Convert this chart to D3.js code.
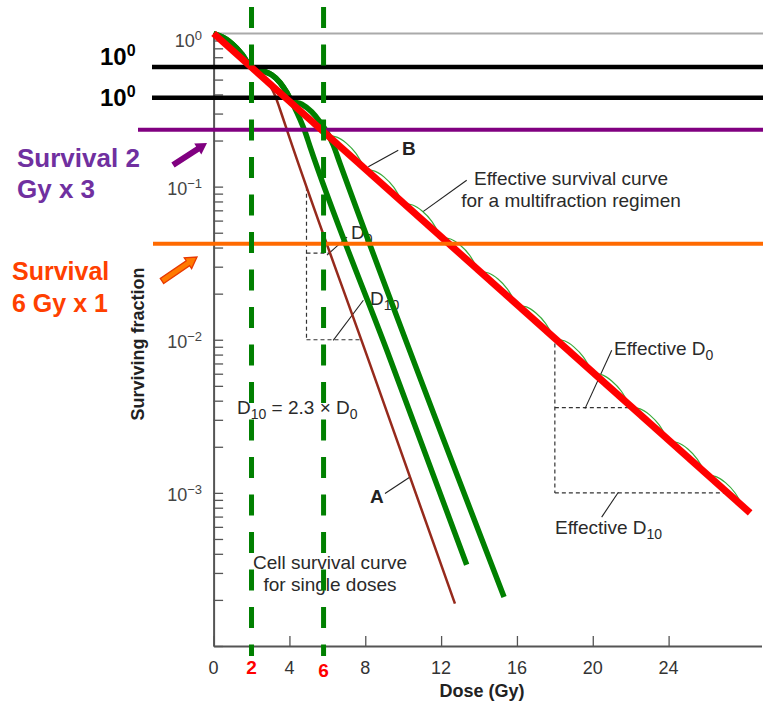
<!DOCTYPE html>
<html>
<head>
<meta charset="utf-8">
<script src="https://cdn.jsdelivr.net/npm/d3@7"></script>
<style>
body{margin:0;background:#fff;}
svg{display:block;font-family:"Liberation Sans",Arial,sans-serif;}
</style>
</head>
<body>
<svg id="chart" width="763" height="703"></svg>
<script>
// ---- data ----
// x ticks (Gy)
var xTicks = [0, 4, 8, 12, 16, 20, 24];
var yLabelVals = [1, 0.1, 0.01, 0.001];
var yLabelExp = ["0", "\u22121", "\u22122", "\u22123"];

// curve A: single doses (brown)
var curveA_dose = [0, 0.5, 1, 1.5, 2, 2.62, 2.97, 3.24, 3.5, 4.03, 8.14, 12.73];
var curveA_surv = [1, 0.944, 0.851, 0.733, 0.600, 0.513, 0.457, 0.394, 0.320, 0.204, 0.00755, 0.000189];

// thick green: single dose given after 1 fraction
var green1_dose = [0, 0.5, 1, 1.5, 2, 2.62, 3.06, 3.5, 3.86, 4.2, 4.56, 4.82, 5.09, 9.3, 13.35];
var green1_surv = [1, 0.944, 0.851, 0.733, 0.600, 0.569, 0.537, 0.479, 0.412, 0.343, 0.275, 0.229, 0.182, 0.00755, 0.000339];

// thick green: single dose given after 2 fractions
var green2_dose = [0, 0.5, 1, 1.5, 2, 2.62, 3.06, 3.5, 3.86, 4.1, 4.65, 5.17, 5.61, 5.97, 6.31, 6.67, 15.32];
var green2_surv = [1, 0.944, 0.851, 0.733, 0.600, 0.569, 0.537, 0.479, 0.412, 0.363, 0.345, 0.308, 0.265, 0.228, 0.187, 0.141, 0.000209];

// multifraction scallops (thin green): start of each 2 Gy fraction
var fractionDose = [0, 2, 4, 6, 8, 10, 12, 14, 16, 18, 20, 22, 24, 26];
var fractionSurv = [1, 0.6, 0.36, 0.216, 0.1296, 0.0778, 0.0467, 0.028, 0.0168, 0.0101, 0.00605, 0.00363, 0.00218, 0.00131];
// shape of one shoulder (dose into fraction, relative survival)
var shoulderDose = [0, 0.5, 1, 1.5, 2];
var shoulderSurv = [1, 0.975, 0.89, 0.765, 0.6];

// effective survival curve B (red)
var redLine = [[0, 1], [28.3, 0.00074]];

// horizontal reference lines
var blackLevels = [0.605, 0.38];
var purpleLevel = 0.235;
var orangeLevel = 0.0423;
// dashed dose markers
var markerDose = [2, 5.8];
var markerLabel = ["2", "6"];

// D0 / D10 construction lines
var singleTri = {dose: 4.9, top: 0.1, d0: 1.25, d0Surv: 0.0368, d10: 2.87, d10Surv: 0.01};
var effTri = {dose: 18, top: 0.0105, d0: 4.0, d0Surv: 0.0036, d10: 8.95, d10Surv: 0.001};

// leader lines [dose, survival] pairs
var leaders = [
  [[9.74, 0.173], [8.16, 0.135]],      // B
  [[13.35, 0.110], [11.03, 0.0684]],   // effective survival curve
  [[9.04, 0.00099], [10.36, 0.00127]], // A
  [[5.98, 0.0357], [7.04, 0.0468]],    // D0
  [[6.31, 0.0099], [7.90, 0.0181]],    // D10
  [[21.0, 0.00853], [19.59, 0.00355]], // effective D0
  [[21.35, 0.00101], [20.47, 0.000695]]// effective D10
];

// ---- drawing ----
var svg = d3.select("#chart");

var x = d3.scaleLinear().domain([0, 28.9]).range([213.6, 761.5]);
var y = d3.scaleLog().domain([1e-4, 1]).range([646, 33.5]);

var lineGen = d3.line()
    .x(function(d){ return x(d[0]); })
    .y(function(d){ return y(d[1]); })
    .curve(d3.curveMonotoneX);

function zip(a, b){ return a.map(function(v, i){ return [v, b[i]]; }); }

// axes
var yAxis = d3.axisLeft(y).tickValues(y.ticks()).tickSize(-9.5).tickSizeOuter(0).tickFormat("");
var gy = svg.append("g").attr("transform", "translate(" + x(0) + ",0)").call(yAxis);
var xAxis = d3.axisBottom(x).tickValues(xTicks).tickSize(-10).tickSizeOuter(0).tickFormat("");
var gx = svg.append("g").attr("transform", "translate(0," + y(1e-4) + ")").call(xAxis);
svg.selectAll(".domain").attr("stroke", "#555").attr("stroke-width", 2);
svg.selectAll(".tick line").attr("stroke", "#555").attr("stroke-width", 1.3);

// top grey line at 10^0
svg.append("line")
    .attr("x1", x(0)).attr("x2", 763)
    .attr("y1", y(1)).attr("y2", y(1))
    .attr("stroke", "#aaa").attr("stroke-width", 2);

// tick labels
svg.selectAll(".xlab").data(xTicks).enter().append("text")
    .attr("x", function(d){ return x(d); })
    .attr("y", 674)
    .attr("text-anchor", "middle")
    .style("font-size", "18px")
    .style("fill", "#333")
    .text(function(d){ return d; });

yLabelVals.forEach(function(v, i){
    var t = svg.append("text")
        .attr("x", 202)
        .attr("y", i == 0 ? 47 : y(v) + 8)
        .attr("text-anchor", "end")
        .style("font-size", "18px")
        .style("fill", "#444");
    t.append("tspan").text("10");
    t.append("tspan").attr("dy", -7).style("font-size", "13px").text(yLabelExp[i]);
});

svg.append("text")
    .attr("transform", "translate(144,344) rotate(-90)")
    .attr("text-anchor", "middle")
    .style("font-size", "18px")
    .style("font-weight", "bold")
    .style("fill", "#222")
    .text("Surviving fraction");

svg.append("text")
    .attr("x", 482).attr("y", 697)
    .attr("text-anchor", "middle")
    .style("font-size", "18px")
    .style("font-weight", "bold")
    .style("fill", "#222")
    .text("Dose (Gy)");

// dashed construction lines
function dashed(pts){
    svg.append("path")
        .attr("d", d3.line().x(function(d){ return x(d[0]); }).y(function(d){ return y(d[1]); })(pts))
        .attr("fill", "none")
        .attr("stroke", "#333")
        .attr("stroke-width", 1.2)
        .attr("stroke-dasharray", "4,3");
}
[singleTri, effTri].forEach(function(t){
    dashed([[t.dose, t.top], [t.dose, t.d10Surv]]);
    dashed([[t.dose, t.d0Surv], [t.dose + t.d0, t.d0Surv]]);
    dashed([[t.dose, t.d10Surv], [t.dose + t.d10, t.d10Surv]]);
});

// leader lines
leaders.forEach(function(l){
    svg.append("line")
        .attr("x1", x(l[0][0])).attr("y1", y(l[0][1]))
        .attr("x2", x(l[1][0])).attr("y2", y(l[1][1]))
        .attr("stroke", "#222").attr("stroke-width", 1.1);
});

// annotation text
function label(txt, xx, yy, opts){
    opts = opts || {};
    var t = svg.append("text")
        .attr("x", xx).attr("y", yy)
        .attr("text-anchor", opts.anchor || "start")
        .style("font-size", (opts.size || 19) + "px")
        .style("font-weight", opts.bold ? "bold" : "normal")
        .style("fill", opts.color || "#2a2a2a");
    txt.forEach(function(part){
        var s = t.append("tspan").text(part[0]);
        if (part[1] == "sub") s.attr("dy", 5).style("font-size", "14px");
        if (part[1] == "back") s.attr("dy", -5);
    });
    return t;
}
label([["B"]], 402, 155, {bold: true, size: 19, color: "#222"});
label([["A"]], 370, 503, {bold: true, size: 19, color: "#222"});
label([["Effective survival curve"]], 571, 185, {anchor: "middle"});
label([["for a multifraction regimen"]], 571, 207, {anchor: "middle"});
label([["Cell survival curve"]], 330, 569, {anchor: "middle"});
label([["for single doses"]], 330, 591, {anchor: "middle"});
label([["D"], ["0", "sub"]], 351, 239);
label([["D"], ["10", "sub"]], 370, 305);
label([["D"], ["10", "sub"], [" = 2.3 \u00d7 D", "back"], ["0", "sub"]], 237, 414);
label([["Effective D"], ["0", "sub"]], 614, 355);
label([["Effective D"], ["10", "sub"]], 555, 534);

// scallops of the multifraction curve (thin green)
fractionDose.forEach(function(d0, i){
    var pts = shoulderDose.map(function(sd, k){ return [d0 + sd, fractionSurv[i] * shoulderSurv[k]]; });
    svg.append("path")
        .attr("d", lineGen(pts))
        .attr("fill", "none")
        .attr("stroke", "#3aaa3a")
        .attr("stroke-width", 1.2);
});

// single-dose curve A
svg.append("path")
    .attr("d", lineGen(zip(curveA_dose, curveA_surv)))
    .attr("fill", "none")
    .attr("stroke", "#962a1c")
    .attr("stroke-width", 2.5);

// thick green curves
[zip(green1_dose, green1_surv), zip(green2_dose, green2_surv)].forEach(function(c){
    svg.append("path")
        .attr("d", lineGen(c))
        .attr("fill", "none")
        .attr("stroke", "#008000")
        .attr("stroke-width", 5.5);
});

// horizontal lines
blackLevels.forEach(function(v){
    svg.append("line")
        .attr("x1", 152).attr("x2", 763)
        .attr("y1", y(v)).attr("y2", y(v))
        .attr("stroke", "#000").attr("stroke-width", 4.5);
});
svg.append("line")
    .attr("x1", 138).attr("x2", 763)
    .attr("y1", y(purpleLevel)).attr("y2", y(purpleLevel))
    .attr("stroke", "#800080").attr("stroke-width", 4);

// red effective curve
svg.append("path")
    .attr("d", d3.line().x(function(d){ return x(d[0]); }).y(function(d){ return y(d[1]); })(redLine))
    .attr("stroke", "#ff0000")
    .attr("stroke-width", 7)
    .attr("stroke-linecap", "butt");

svg.append("line")
    .attr("x1", 153).attr("x2", 763)
    .attr("y1", y(orangeLevel)).attr("y2", y(orangeLevel))
    .attr("stroke", "#ff6a00").attr("stroke-width", 4);

// dashed dose markers
markerDose.forEach(function(d, i){
    svg.append("line")
        .attr("x1", x(d)).attr("x2", x(d))
        .attr("y1", 7).attr("y2", 656)
        .attr("stroke", "#008000").attr("stroke-width", 5)
        .attr("stroke-dasharray", "21,16.5");
    svg.append("text")
        .attr("x", x(d)).attr("y", i == 0 ? 674 : 677)
        .attr("text-anchor", "middle")
        .style("font-size", "19px")
        .style("font-weight", "bold")
        .style("fill", "#ff0000")
        .text(markerLabel[i]);
});

// left side labels
[65, 106].forEach(function(yy){
    var t = svg.append("text").attr("x", 100).attr("y", yy)
        .style("font-size", "24px").style("font-weight", "bold").style("fill", "#000");
    t.append("tspan").text("10");
    t.append("tspan").attr("dy", -9).style("font-size", "16px").text("0");
});
label([["Survival 2"]], 17, 167, {bold: true, size: 26, color: "#7030a0"});
label([["Gy x 3"]], 17, 198, {bold: true, size: 26, color: "#7030a0"});
label([["Survival"]], 12, 280, {bold: true, size: 25, color: "#ff4000"});
label([["6 Gy x 1"]], 12, 312, {bold: true, size: 25, color: "#ff4000"});

function arrow(x1, y1, x2, y2, w, hw, hl){
    var len = Math.hypot(x2 - x1, y2 - y1);
    var ux = (x2 - x1) / len, uy = (y2 - y1) / len;
    var nx = -uy, ny = ux;
    var bx = x2 - ux * hl, by = y2 - uy * hl;
    return [
        [x1 + nx * w, y1 + ny * w], [bx + nx * w, by + ny * w], [bx + nx * hw, by + ny * hw],
        [x2, y2],
        [bx - nx * hw, by - ny * hw], [bx - nx * w, by - ny * w], [x1 - nx * w, y1 - ny * w]
    ];
}
svg.append("polygon")
    .attr("points", arrow(173, 165, 207, 143, 3, 6.5, 11).join(" "))
    .attr("fill", "#800080");
svg.append("polygon")
    .attr("points", arrow(162, 281, 197, 257, 3, 6.5, 11).join(" "))
    .attr("fill", "#ff7a00")
    .attr("stroke", "#e83800")
    .attr("stroke-width", 1.3);
</script>
</body>
</html>
